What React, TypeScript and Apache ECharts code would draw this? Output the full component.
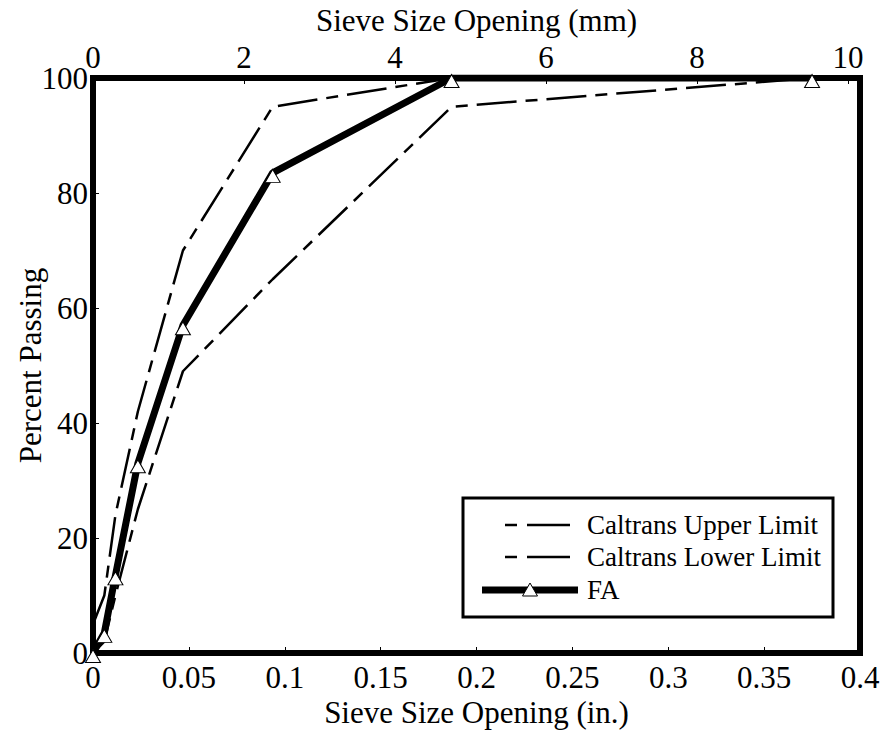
import React, { useEffect, useRef } from "react";
import * as echarts from "echarts";

// Sieve sizes in inches (pan, #100, #50, #30, #16, #8, #4, 3/8")
const sieveIn = [0, 0.0059, 0.0117, 0.0234, 0.0469, 0.0937, 0.187, 0.375];
const upperLimit = [5, 10, 24, 42, 70, 95, 100, 100];
const lowerLimit = [0, 2, 10, 25, 49, 65, 95, 100];
const faPassing = [0, 3.5, 13.5, 33, 57, 83.5, 100, 100];

const xTicksIn = [0, 0.05, 0.1, 0.15, 0.2, 0.25, 0.3, 0.35, 0.4];
const mmTicks = [0, 2, 4, 6, 8, 10];
const yTicks = [0, 20, 40, 60, 80, 100];
const legendNames = ["Caltrans Upper Limit", "Caltrans Lower Limit", "FA"];

const FONT = "Liberation Serif, Times New Roman, serif";
const FS = 31;

export default function App() {
  const ref = useRef<HTMLDivElement>(null);
  useEffect(() => {
    document.body.style.margin = "0";
    const chart = echarts.init(ref.current!, null, { renderer: "svg" });
    const pairs = (ys: number[]) => sieveIn.map((x, i) => [x, ys[i]]);
    const dash = [40, 9, 12, 9];
    const axisCommon = {
      nameLocation: "middle",
      nameMoveOverlap: false,
      nameTextStyle: { fontFamily: FONT, fontSize: FS, color: "#000" },
      axisLine: { show: true, lineStyle: { color: "#000", width: 6 } },
      axisTick: { show: true, inside: true, length: 6, lineStyle: { color: "#000", width: 1 } },
      splitLine: { show: false },
    };
    const rowY = [525, 557, 590];
    const legendGraphics: any[] = [
      {
        type: "rect",
        shape: { x: 463, y: 498, width: 370, height: 119 },
        style: { fill: "none", stroke: "#000", lineWidth: 3 },
      },
    ];
    [0, 1].forEach((i) => {
      legendGraphics.push({
        type: "line",
        shape: { x1: 505, y1: rowY[i], x2: 517, y2: rowY[i] },
        style: { stroke: "#000", lineWidth: 2.5 },
      });
      legendGraphics.push({
        type: "line",
        shape: { x1: 527, y1: rowY[i], x2: 570, y2: rowY[i] },
        style: { stroke: "#000", lineWidth: 2.5 },
      });
    });
    legendGraphics.push({
      type: "line",
      shape: { x1: 482, y1: rowY[2], x2: 578, y2: rowY[2] },
      style: { stroke: "#000", lineWidth: 7 },
    });
    legendGraphics.push({
      type: "polygon",
      shape: { points: [[530, rowY[2] - 7], [537.5, rowY[2] + 6], [522.5, rowY[2] + 6]] },
      style: { fill: "#fff", stroke: "#000", lineWidth: 1 },
    });
    legendNames.forEach((n, i) => {
      legendGraphics.push({
        type: "text",
        x: 587,
        y: rowY[i],
        style: {
          text: n,
          fontFamily: FONT,
          fontSize: 27,
          fill: "#000",
          verticalAlign: "middle",
          align: "left",
        },
      });
    });

    chart.setOption({
      animation: false,
      backgroundColor: "#fff",
      textStyle: { fontFamily: FONT, color: "#000" },
      grid: {
        left: 93,
        right: 25,
        top: 78,
        bottom: 81,
        show: true,
        borderColor: "#000",
        borderWidth: 6,
        backgroundColor: "transparent",
        containLabel: false,
        outerBoundsMode: "none",
      },
      xAxis: [
        {
          ...axisCommon,
          type: "value",
          position: "bottom",
          min: xTicksIn[0],
          max: xTicksIn[xTicksIn.length - 1],
          interval: 0.05,
          name: "Sieve Size Opening (in.)",
          nameGap: 44,
          axisLabel: {
            fontFamily: FONT,
            fontSize: FS,
            color: "#000",
            margin: 9,
            formatter: (v: number) => String(+v.toFixed(2)),
          },
        },
        {
          ...axisCommon,
          type: "value",
          position: "top",
          min: mmTicks[0],
          max: 10.16,
          interval: 2,
          name: "Sieve Size Opening (mm)",
          nameGap: 42,
          axisLabel: {
            fontFamily: FONT,
            fontSize: FS,
            color: "#000",
            margin: 5,
            formatter: (v: number) => (mmTicks.includes(v) ? String(v) : ""),
          },
        },
      ],
      yAxis: {
        ...axisCommon,
        type: "value",
        min: yTicks[0],
        max: yTicks[yTicks.length - 1],
        interval: 20,
        name: "Percent Passing",
        nameGap: 47,
        axisLabel: { fontFamily: FONT, fontSize: FS, color: "#000", margin: 5 },
      },
      graphic: { elements: legendGraphics },
      series: [
        {
          name: "Caltrans Upper Limit",
          type: "line",
          data: pairs(upperLimit),
          symbol: "none",
          lineStyle: { color: "#000", width: 2.5, type: dash },
        },
        {
          name: "Caltrans Lower Limit",
          type: "line",
          data: pairs(lowerLimit),
          symbol: "none",
          lineStyle: { color: "#000", width: 2.5, type: dash },
        },
        {
          name: "FA",
          type: "line",
          data: pairs(faPassing),
          symbol: "triangle",
          symbolSize: [15, 13],
          symbolOffset: [0, 3],
          lineStyle: { color: "#000", width: 7 },
          itemStyle: { color: "#fff", borderColor: "#000", borderWidth: 1 },
          z: 3,
        },
      ],
    });
    return () => chart.dispose();
  }, []);
  return <div ref={ref} style={{ width: 885, height: 734 }} />;
}
